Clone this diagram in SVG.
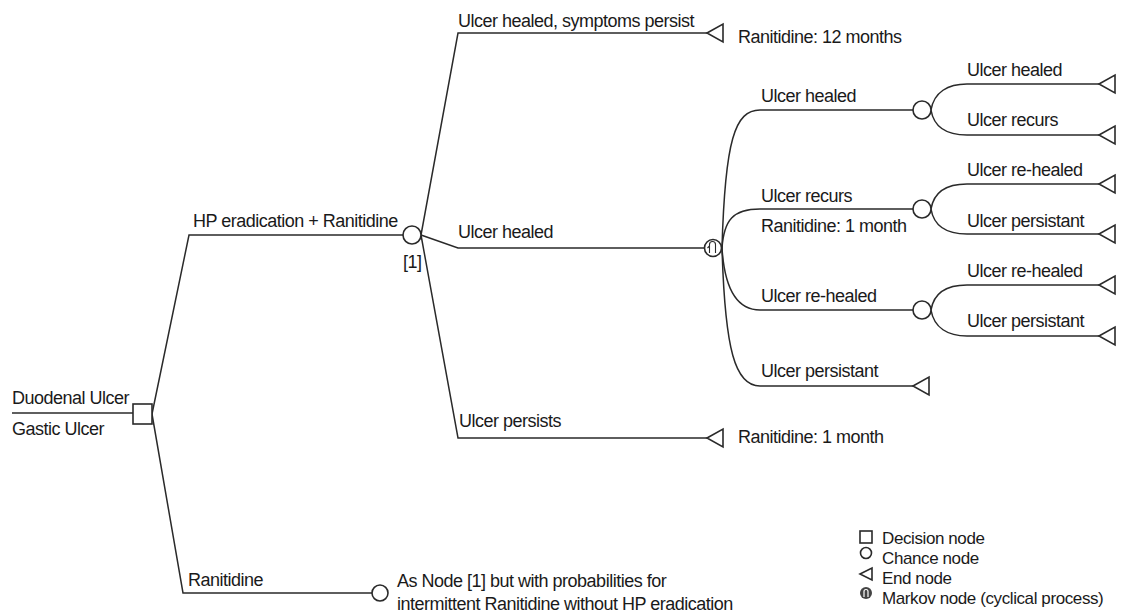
<svg xmlns="http://www.w3.org/2000/svg" width="1123" height="616" viewBox="0 0 1123 616">
<defs>
<style>
text{font-family:"Liberation Sans",Arial,sans-serif;font-size:18px;letter-spacing:-0.5px;fill:#1a1a1a}
.lg{font-size:17px;letter-spacing:-0.4px}
.ln{fill:none;stroke:#2a2a2a;stroke-width:1.5}
.nd{fill:#fff;stroke:#2a2a2a;stroke-width:1.6}
</style>
<polygon id="tri" points="0,0 16,-9 16,9"/>
</defs>
<rect width="1123" height="616" fill="#fff"/>
<g id="connectors" class="ln">
<path d="M12,413 H133"/>
<path d="M152,414 L189,235 H403"/>
<path d="M152,414 L183,593 H372"/>
<path d="M421,235 L458,33 H707"/>
<path d="M421,235 L458,248 H704.5"/>
<path d="M421,235 L458,438 H707"/>
<path d="M722,248 C725,140 735,110 760,110 H913"/>
<path d="M722,248 C724,220 733,209 760,209 H913"/>
<path d="M722,248 C724,280 733,310 760,310 H913"/>
<path d="M722,248 C725,350 735,386 760,386 H913"/>
<path d="M931,110 C934,92 948,84 967,84 H1099"/>
<path d="M931,110 C934,128 948,135 967,135 H1099"/>
<path d="M931,209 C934,191 948,184 967,184 H1099"/>
<path d="M931,209 C934,227 948,234 967,234 H1099"/>
<path d="M931,310 C934,292 948,285 967,285 H1099"/>
<path d="M931,310 C934,328 948,336 967,336 H1099"/>
</g>
<g id="decision">
<rect class="nd" x="133" y="404" width="19" height="20"/>
<text x="12" y="404">Duodenal Ulcer</text>
<text x="12" y="435">Gastic Ulcer</text>
</g>
<g id="chance1">
<circle class="nd" cx="412" cy="235" r="9"/>
<text x="193" y="227">HP eradication + Ranitidine</text>
<text x="403" y="268">[1]</text>
</g>
<g id="chance5">
<circle class="nd" cx="380" cy="593" r="8"/>
<text x="188" y="586">Ranitidine</text>
<text x="397" y="587">As Node [1] but with probabilities for</text>
<text x="397" y="610">intermittent Ranitidine without HP eradication</text>
</g>
<g id="end1">
<use href="#tri" class="nd" x="707" y="33"/>
<text x="458" y="27">Ulcer healed, symptoms persist</text>
<text x="738" y="43">Ranitidine: 12 months</text>
</g>
<g id="markov">
<circle class="nd" cx="713" cy="248" r="8.5"/>
<path class="ln" style="stroke-width:1.1" d="M709.5,253 V244.5 A3,3 0 0 1 715.5,244.5 V253 M709.5,246 L707.5,248"/>
<text x="458" y="238">Ulcer healed</text>
</g>
<g id="end2">
<use href="#tri" class="nd" x="707" y="438"/>
<text x="459" y="427">Ulcer persists</text>
<text x="738" y="443">Ranitidine: 1 month</text>
</g>
<g id="chance2">
<circle class="nd" cx="922" cy="110" r="9"/>
<text x="761" y="102">Ulcer healed</text>
</g>
<g id="chance3">
<circle class="nd" cx="922" cy="209" r="9"/>
<text x="761" y="202">Ulcer recurs</text>
<text x="761" y="232">Ranitidine: 1 month</text>
</g>
<g id="chance4">
<circle class="nd" cx="922" cy="310" r="9"/>
<text x="761" y="302">Ulcer re-healed</text>
</g>
<g id="end3">
<use href="#tri" class="nd" x="913" y="386"/>
<text x="761" y="377">Ulcer persistant</text>
</g>
<g id="end4"><use href="#tri" class="nd" x="1099" y="84"/><text x="967" y="76">Ulcer healed</text></g>
<g id="end5"><use href="#tri" class="nd" x="1099" y="135"/><text x="967" y="126">Ulcer recurs</text></g>
<g id="end6"><use href="#tri" class="nd" x="1099" y="184"/><text x="967" y="176">Ulcer re-healed</text></g>
<g id="end7"><use href="#tri" class="nd" x="1099" y="234"/><text x="967" y="227">Ulcer persistant</text></g>
<g id="end8"><use href="#tri" class="nd" x="1099" y="285"/><text x="967" y="277">Ulcer re-healed</text></g>
<g id="end9"><use href="#tri" class="nd" x="1099" y="336"/><text x="967" y="327">Ulcer persistant</text></g>
<g id="legend">
<rect class="nd" x="860" y="531" width="12" height="12"/>
<text class="lg" x="882" y="544">Decision node</text>
<circle class="nd" cx="866" cy="553" r="5.5"/>
<text class="lg" x="882" y="564">Chance node</text>
<polygon class="nd" points="860,574 872,568 872,580"/>
<text class="lg" x="882" y="584">End node</text>
<circle cx="866" cy="593" r="6" fill="#444"/>
<path d="M864,597 V591.5 A2,2 0 0 1 868,591.5 V597" fill="none" stroke="#fff" stroke-width="1.2"/>
<text class="lg" x="882" y="604">Markov node (cyclical process)</text>
</g>
</svg>
